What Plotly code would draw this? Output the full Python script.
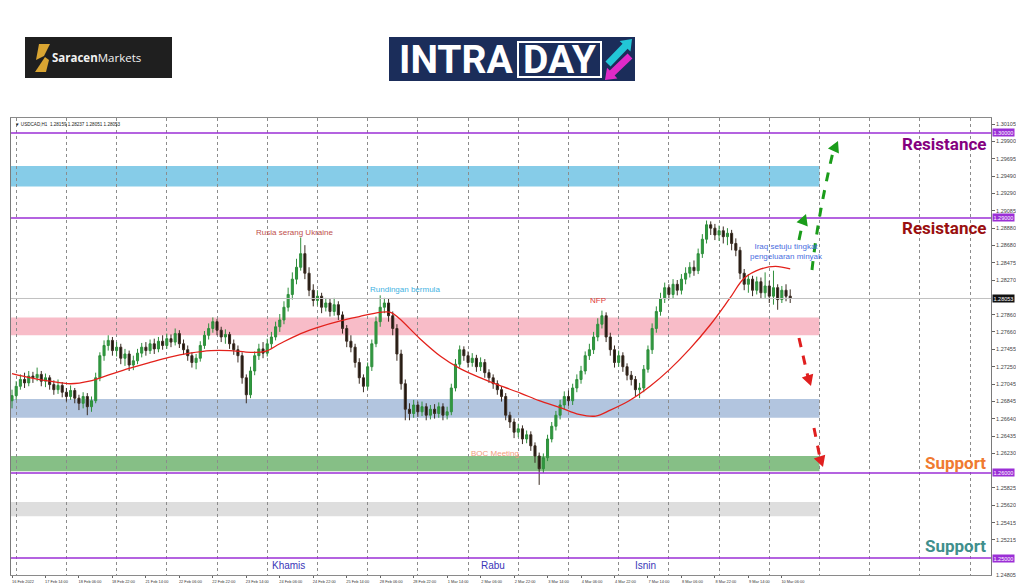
import plotly.graph_objects as go

# ---- data (USDCAD H1, drawn here as 2-hour candles) ----
OPEN0 = 1.2685
CLOSE = [
    1.2691, 1.2702, 1.2710, 1.2706, 1.2714, 1.2712, 1.2716, 1.2708, 1.2712, 1.2704,
    1.2698, 1.2703, 1.2695, 1.2690, 1.2697, 1.2688, 1.2682, 1.2690, 1.2678, 1.2685,
    1.2712, 1.2738, 1.2750, 1.2756, 1.2744, 1.2748, 1.2735, 1.2740, 1.2727, 1.2732,
    1.2741, 1.2748, 1.2744, 1.2752, 1.2746, 1.2755, 1.2750, 1.2758, 1.2754, 1.2764,
    1.2752, 1.2745, 1.2738, 1.2730, 1.2735, 1.2750, 1.2762, 1.2770, 1.2778, 1.2768,
    1.2760, 1.2763, 1.2752, 1.2745, 1.2738, 1.2712, 1.2692, 1.2720, 1.2738, 1.2746,
    1.2741, 1.2752, 1.2760, 1.2772, 1.2780, 1.2795, 1.2810, 1.2828, 1.2842, 1.2858,
    1.2835, 1.2815, 1.2803, 1.2808, 1.2795, 1.2800, 1.2790, 1.2798, 1.2786, 1.2770,
    1.2755, 1.2748, 1.2730, 1.2712, 1.2702, 1.2725, 1.2752, 1.2778, 1.2795, 1.2800,
    1.2785, 1.2770, 1.2740, 1.2705, 1.2675, 1.2670, 1.2680, 1.2672, 1.2678, 1.2668,
    1.2675, 1.2670, 1.2678, 1.2668, 1.2672, 1.2700, 1.2728, 1.2745, 1.2738, 1.2730,
    1.2735, 1.2725, 1.2730, 1.2718, 1.2712, 1.2705, 1.2698, 1.2690, 1.2668, 1.2660,
    1.2648, 1.2652, 1.2640, 1.2645, 1.2632, 1.2620, 1.2605, 1.2618, 1.2640, 1.2655,
    1.2668, 1.2680, 1.2690, 1.2685, 1.2700, 1.2710, 1.2720, 1.2738, 1.2745, 1.2760,
    1.2775, 1.2785, 1.2760, 1.2745, 1.2730, 1.2738, 1.2725, 1.2715, 1.2710, 1.2698,
    1.2700, 1.2722, 1.2745, 1.2770, 1.2790, 1.2805, 1.2818, 1.2810, 1.2822, 1.2815,
    1.2828, 1.2835, 1.2842, 1.2838, 1.2858, 1.2875, 1.2892, 1.2888, 1.2880, 1.2885,
    1.2878, 1.2882, 1.2870, 1.2862, 1.2835, 1.2822, 1.2828, 1.2815, 1.2825, 1.2812,
    1.2820, 1.2808, 1.2818, 1.2804, 1.2815, 1.2808, 1.28053,
]
HIGH = [
    1.2698, 1.2708, 1.2716, 1.2718, 1.2720, 1.2719, 1.2724, 1.2720, 1.2717, 1.2715,
    1.2709, 1.2710, 1.2707, 1.2700, 1.2703, 1.2700, 1.2692, 1.2695, 1.2694, 1.2690,
    1.2718, 1.2742, 1.2756, 1.2762, 1.2760, 1.2754, 1.2752, 1.2746, 1.2744, 1.2738,
    1.2746, 1.2753, 1.2754, 1.2757, 1.2758, 1.2760, 1.2762, 1.2764, 1.2763, 1.2770,
    1.2768, 1.2757, 1.2750, 1.2742, 1.2740, 1.2755, 1.2767, 1.2776, 1.2783, 1.2781,
    1.2772, 1.2769, 1.2766, 1.2757, 1.2750, 1.2742, 1.2716, 1.2725, 1.2743, 1.2752,
    1.2754, 1.2758, 1.2766, 1.2778, 1.2787, 1.2802, 1.2818, 1.2836, 1.2852, 1.2877,
    1.2868, 1.2842, 1.2822, 1.2815, 1.2812, 1.2806, 1.2805, 1.2806, 1.2802, 1.2790,
    1.2774, 1.2762, 1.2752, 1.2735, 1.2716, 1.2730, 1.2757, 1.2784, 1.2809, 1.2806,
    1.2805, 1.2790, 1.2775, 1.2745, 1.2710, 1.2682, 1.2686, 1.2684, 1.2684, 1.2682,
    1.2680, 1.2681, 1.2683, 1.2682, 1.2678, 1.2705, 1.2734, 1.2750, 1.2749, 1.2743,
    1.2741, 1.2739, 1.2736, 1.2734, 1.2722, 1.2716, 1.2709, 1.2702, 1.2694, 1.2672,
    1.2664, 1.2658, 1.2656, 1.2650, 1.2649, 1.2636, 1.2624, 1.2623, 1.2645, 1.2660,
    1.2673, 1.2686, 1.2696, 1.2697, 1.2705, 1.2716, 1.2726, 1.2743, 1.2752, 1.2766,
    1.2782, 1.2791, 1.2789, 1.2765, 1.2750, 1.2744, 1.2742, 1.2729, 1.2720, 1.2714,
    1.2706, 1.2727, 1.2750, 1.2776, 1.2796, 1.2812, 1.2824, 1.2822, 1.2828, 1.2827,
    1.2834, 1.2842, 1.2848, 1.2850, 1.2864, 1.2881, 1.2897, 1.2896, 1.2893, 1.2891,
    1.2890, 1.2888, 1.2886, 1.2876, 1.2866, 1.2840, 1.2834, 1.2832, 1.2831, 1.2830,
    1.2836, 1.2826, 1.2838, 1.2822, 1.2820, 1.2822, 1.2816,
]
LOW = [
    1.2676, 1.2686, 1.2698, 1.2700, 1.2702, 1.2706, 1.2708, 1.2702, 1.2701, 1.2698,
    1.2692, 1.2693, 1.2689, 1.2684, 1.2686, 1.2682, 1.2674, 1.2676, 1.2668, 1.2672,
    1.2682, 1.2708, 1.2732, 1.2744, 1.2738, 1.2737, 1.2728, 1.2726, 1.2720, 1.2721,
    1.2728, 1.2736, 1.2738, 1.2740, 1.2740, 1.2742, 1.2745, 1.2746, 1.2748, 1.2750,
    1.2747, 1.2739, 1.2732, 1.2724, 1.2722, 1.2731, 1.2746, 1.2757, 1.2765, 1.2762,
    1.2754, 1.2752, 1.2746, 1.2739, 1.2730, 1.2705, 1.2682, 1.2688, 1.2715, 1.2733,
    1.2735, 1.2737, 1.2747, 1.2756, 1.2766, 1.2775, 1.2790, 1.2804, 1.2822, 1.2838,
    1.2828, 1.2808, 1.2796, 1.2797, 1.2788, 1.2790, 1.2784, 1.2785, 1.2780, 1.2764,
    1.2748, 1.2742, 1.2724, 1.2705, 1.2695, 1.2698, 1.2720, 1.2748, 1.2772, 1.2788,
    1.2778, 1.2762, 1.2732, 1.2698, 1.2662, 1.2662, 1.2665, 1.2666, 1.2667, 1.2662,
    1.2663, 1.2664, 1.2665, 1.2662, 1.2663, 1.2668, 1.2696, 1.2724, 1.2732, 1.2724,
    1.2725, 1.2719, 1.2720, 1.2712, 1.2706, 1.2699, 1.2692, 1.2684, 1.2662, 1.2653,
    1.2641, 1.2642, 1.2634, 1.2635, 1.2626, 1.2612, 1.2586, 1.2600, 1.2614, 1.2636,
    1.2650, 1.2663, 1.2675, 1.2679, 1.2680, 1.2695, 1.2705, 1.2716, 1.2733, 1.2740,
    1.2755, 1.2770, 1.2754, 1.2738, 1.2724, 1.2725, 1.2719, 1.2709, 1.2703, 1.2690,
    1.2688, 1.2695, 1.2718, 1.2740, 1.2765, 1.2785, 1.2800, 1.2804, 1.2805, 1.2809,
    1.2810, 1.2822, 1.2830, 1.2832, 1.2834, 1.2853, 1.2870, 1.2880, 1.2874, 1.2873,
    1.2870, 1.2868, 1.2862, 1.2855, 1.2828, 1.2815, 1.2812, 1.2808, 1.2810, 1.2805,
    1.2806, 1.2800, 1.2798, 1.2792, 1.2800, 1.2802, 1.2800,
]

# moving average (red line), H1 bar index -> price
MA_X = [0, 9, 18, 28, 37, 47, 56, 66, 75, 85, 95, 104, 114, 121, 128, 138, 147, 157,
        166, 176, 181, 185, 195, 205, 214, 224, 233, 243, 252, 262, 271, 279, 286,
        295, 305, 314, 324, 334, 343, 350, 358, 365, 372]
MA_Y = [1.2717, 1.2712, 1.2708, 1.2705, 1.2708, 1.2716, 1.2723, 1.2730, 1.2736,
        1.2741, 1.2744, 1.2744, 1.2742, 1.2743, 1.2752, 1.2764, 1.2772, 1.2779,
        1.2784, 1.2789, 1.2789, 1.2782, 1.2758, 1.2737, 1.2723, 1.2712, 1.2703,
        1.2694, 1.2685, 1.2677, 1.2669, 1.2667, 1.2674, 1.2685, 1.2702, 1.2721,
        1.2746, 1.2775, 1.2805, 1.2829, 1.2840, 1.2843, 1.2840]

DATE_LABELS = ["16 Feb 2022", "17 Feb 14:00", "18 Feb 06:00", "18 Feb 22:00",
               "21 Feb 14:00", "22 Feb 06:00", "22 Feb 22:00", "23 Feb 14:00",
               "24 Feb 06:00", "24 Feb 22:00", "25 Feb 14:00", "28 Feb 06:00",
               "28 Feb 22:00", "1 Mar 14:00", "2 Mar 06:00", "2 Mar 22:00",
               "3 Mar 14:00", "4 Mar 06:00", "4 Mar 22:00", "7 Mar 14:00",
               "8 Mar 06:00", "8 Mar 22:00", "9 Mar 14:00", "10 Mar 06:00"]

PRICE_TICKS = [1.30105, 1.29900, 1.29695, 1.29490, 1.29290, 1.29085, 1.28880,
               1.28680, 1.28475, 1.28270, 1.27860, 1.27660, 1.27455, 1.27250,
               1.27045, 1.26845, 1.26640, 1.26435, 1.26230, 1.25825, 1.25620,
               1.25415, 1.25215]

LEVELS = [1.30, 1.29, 1.26, 1.25]
LAST_PRICE = 1.28053

ZONE_TOP = [1.2961, 1.2783, 1.2687, 1.2620, 1.2566]
ZONE_BOTTOM = [1.2937, 1.2762, 1.2665, 1.2602, 1.2549]
ZONE_COLORS = ["#86cce8", "#f8bcc8", "#b2c5df", "#86bf86", "#dedede"]

EVENTS = [("Rusia serang Ukraine", 135, 1.2883, "#c0504d"),
          ("Rundingan bermula", 188, 1.2816, "#3fb2e2"),
          ("NFP", 280, 1.2803, "#e23b3b"),
          ("BOC Meeting", 231, 1.2623, "#f39a7c"),
          ("Iraq setuju tingkat<br>pengeluaran minyak", 370, 1.2860, "#4a6ee0")]

DAYS = [("Khamis", 132), ("Rabu", 230), ("Isnin", 303)]

ZONE_TAGS = [("Resistance", 1.2987, "#85007f"),
             ("Resistance", 1.2888, "#9a0f0f"),
             ("Support", 1.2612, "#f07a30"),
             ("Support", 1.2514, "#3f8f8c")]

# ---- page geometry (page pixels; the html body adds an 8 px offset) ----
OFF = 8
W, H = 1024 - OFF, 587 - OFF
ML, MR, MT, MB = 11 - OFF, 33, 118 - OFF, 12
X_RANGE = [-0.48, 467.98]
Y_RANGE = [1.2480, 1.30176]


def px(x):
    return (x - OFF - ML) / (W - ML - MR)


def py(y):
    return (H - MB - (y - OFF)) / (H - MT - MB)


def arrow_poly(x0, y0, x1, y1, w, hw, hl):
    dx, dy = x1 - x0, y1 - y0
    n = (dx * dx + dy * dy) ** 0.5
    ux, uy = dx / n, dy / n
    nx, ny = -uy, ux
    bx, by = x1 - ux * hl, y1 - uy * hl
    pts = [(x0 + nx * w / 2, y0 + ny * w / 2), (bx + nx * w / 2, by + ny * w / 2),
           (bx + nx * hw / 2, by + ny * hw / 2), (x1, y1),
           (bx - nx * hw / 2, by - ny * hw / 2), (bx - nx * w / 2, by - ny * w / 2),
           (x0 - nx * w / 2, y0 - ny * w / 2)]
    return "M " + " L ".join(f"{px(a)},{py(b)}" for a, b in pts) + " Z"


xs = [2 * k for k in range(len(CLOSE))]
opens = [OPEN0] + CLOSE[:-1]

fig = go.Figure()

fig.add_trace(go.Candlestick(
    x=xs, open=opens, high=HIGH, low=LOW, close=CLOSE,
    increasing=dict(line=dict(color="#2f8f3c", width=1), fillcolor="#2f9a40"),
    decreasing=dict(line=dict(color="#3a2c22", width=1), fillcolor="#1d140c"),
    whiskerwidth=0, showlegend=False, hoverinfo="skip",
))
fig.add_trace(go.Scatter(
    x=MA_X, y=MA_Y, mode="lines", xaxis="x2",
    line=dict(color="#e3211b", width=1.3, shape="spline"),
    showlegend=False, hoverinfo="skip",
))

# zones
for lo, hi, col in zip(ZONE_BOTTOM, ZONE_TOP, ZONE_COLORS):
    fig.add_shape(type="rect", xref="x", yref="y", x0=X_RANGE[0], x1=386,
                  y0=lo, y1=hi, fillcolor=col, line_width=0, layer="below")

# key levels + price labels on the axis
for lv in LEVELS:
    fig.add_shape(type="line", xref="paper", yref="y", x0=0, x1=1, y0=lv, y1=lv,
                  line=dict(color="#9b2fd6", width=1.5))
    fig.add_annotation(xref="paper", yref="y", x=1, y=lv, xanchor="left",
                       yanchor="middle", xshift=1, text=f"{lv:.5f}",
                       showarrow=False, bgcolor="#9b2fd6",
                       font=dict(size=5.5, color="white"), borderpad=0.5)
fig.add_shape(type="line", xref="paper", yref="y", x0=0, x1=1,
              y0=LAST_PRICE, y1=LAST_PRICE, line=dict(color="#c0c0c0", width=1))
fig.add_annotation(xref="paper", yref="y", x=1, y=LAST_PRICE, xanchor="left",
                   yanchor="middle", xshift=1, text=f"{LAST_PRICE:.5f}",
                   showarrow=False, bgcolor="#111111",
                   font=dict(size=5.5, color="white"), borderpad=0.5)
fig.add_annotation(xref="paper", yref="paper", x=1, y=py(575), xanchor="left",
                   yanchor="middle", xshift=3, text="1.24805", showarrow=False,
                   font=dict(size=5.5, color="#444"))

# header
fig.add_annotation(xref="paper", yref="paper", x=px(13), y=py(124),
                   xanchor="left", yanchor="middle", showarrow=False,
                   text="▼ USDCAD,H1  1.28159 1.28237 1.28051 1.28053",
                   font=dict(size=4.6, color="#222"))

# event notes
for txt, bx, pr, col in EVENTS:
    fig.add_annotation(x=bx, y=pr, text=txt, showarrow=False,
                       font=dict(size=8, color=col, family="Liberation Sans"))
for txt, bx in DAYS:
    fig.add_annotation(x=bx, yref="paper", y=py(565), yanchor="middle",
                       text=txt, showarrow=False,
                       font=dict(size=10, color="#3a36b8", family="Liberation Sans"))
for txt, pr, col in ZONE_TAGS:
    fig.add_annotation(xref="paper", x=px(988), y=pr, xanchor="right",
                       yanchor="middle", text=f"<b>{txt}</b>", showarrow=False,
                       font=dict(size=17, color=col, family="Roboto"))

# dashed direction arrows
ARROWS = [
    ("#1a9c1a", [(812, 270), (818, 215), (833, 152)], (838, 141)),
    ("#1a9c1a", [(799, 240), (801, 230), (803, 222)], (806, 214)),
    ("#e01f1f", [(799, 338), (804, 360), (808, 377)], (811, 386)),
    ("#e01f1f", [(814, 428), (817, 443), (820, 458)], (823, 467)),
]
for col, pts, tip in ARROWS:
    (x0, y0), (x1, y1), (x2, y2) = pts
    path = (f"M {px(x0)},{py(y0)} Q {px(x1)},{py(y1)} {px(x2)},{py(y2)}")
    fig.add_shape(type="path", xref="paper", yref="paper", path=path,
                  line=dict(color=col, width=3, dash="dash"))
    fig.add_shape(type="path", xref="paper", yref="paper",
                  path=arrow_poly(x2, y2, tip[0], tip[1], 0, 12, 11),
                  fillcolor=col, line_width=0)

# ---- logos ----
fig.add_shape(type="rect", xref="paper", yref="paper", x0=px(25), x1=px(172),
              y0=py(78), y1=py(37), fillcolor="#1f1f1f", line_width=0)
s_top = [(39, 44), (50, 44), (44, 56), (36, 60)]
s_bot = [(45, 57), (49, 60), (46, 72), (35, 72)]
for poly in (s_top, s_bot):
    path = "M " + " L ".join(f"{px(a)},{py(b)}" for a, b in poly) + " Z"
    fig.add_shape(type="path", xref="paper", yref="paper", path=path,
                  fillcolor="#d9a532", line_width=0)
fig.add_annotation(xref="paper", yref="paper", x=px(50), y=py(58), xanchor="left",
                   yanchor="middle", showarrow=False, text="<b>Saracen</b>Markets",
                   font=dict(size=11.5, color="#f2f2f2", family="Open Sans"))

fig.add_shape(type="rect", xref="paper", yref="paper", x0=px(389), x1=px(635),
              y0=py(81), y1=py(37), fillcolor="#1b2d5a", line_width=0)
fig.add_shape(type="rect", xref="paper", yref="paper", x0=px(518), x1=px(601),
              y0=py(77), y1=py(42), line=dict(color="white", width=2))
fig.add_annotation(xref="paper", yref="paper", x=px(397), y=py(60), xanchor="left",
                   yanchor="middle", showarrow=False, text="<b>INTRA</b>",
                   font=dict(size=39, color="white", family="Roboto"))
fig.add_annotation(xref="paper", yref="paper", x=px(559.5), y=py(60),
                   xanchor="center", yanchor="middle", showarrow=False,
                   text="<b>DAY</b>",
                   font=dict(size=39, color="white", family="Roboto"))
fig.add_shape(type="path", xref="paper", yref="paper",
              path=arrow_poly(608, 64, 632, 39, 7, 15, 10),
              fillcolor="#22c6d6", line_width=0)
fig.add_shape(type="path", xref="paper", yref="paper",
              path=arrow_poly(630, 56, 605, 80, 7, 15, 10),
              fillcolor="#e02ac8", line_width=0)

# ---- axes ----
fig.update_layout(
    width=W, height=H,
    margin=dict(l=ML, r=MR, t=MT, b=MB, autoexpand=False),
    paper_bgcolor="white", plot_bgcolor="white",
    font=dict(family="Liberation Sans", size=6, color="#333"),
    showlegend=False,
    xaxis=dict(
        range=X_RANGE, rangeslider=dict(visible=False), automargin=False,
        tickmode="array", tickvals=[16 * i for i in range(len(DATE_LABELS))],
        ticktext=DATE_LABELS, tickfont=dict(size=3.9, color="#333"), tickangle=0,
        ticks="outside", ticklen=2, tickcolor="#666", ticklabelshift=11,
        ticklabeloverflow="allow",
        showgrid=False, showline=True, linecolor="#8a8a8a", mirror=True,
        zeroline=False,
    ),
    xaxis2=dict(
        range=X_RANGE, overlaying="x", tickmode="linear", tick0=2, dtick=24,
        showgrid=True, gridcolor="#8c8c8c", griddash="dot", gridwidth=1,
        showticklabels=False, ticks="", showline=False, zeroline=False,
        automargin=False,
    ),
    yaxis=dict(
        range=Y_RANGE, side="right", tickmode="array", tickvals=PRICE_TICKS,
        ticktext=[f"{v:.5f}" for v in PRICE_TICKS], automargin=False,
        tickfont=dict(size=5.5, color="#444"), ticks="outside", ticklen=3,
        tickcolor="#666", showgrid=False, showline=True, linecolor="#7a7a7a",
        mirror=True, zeroline=False,
    ),
)

fig.write_html("out.html")
